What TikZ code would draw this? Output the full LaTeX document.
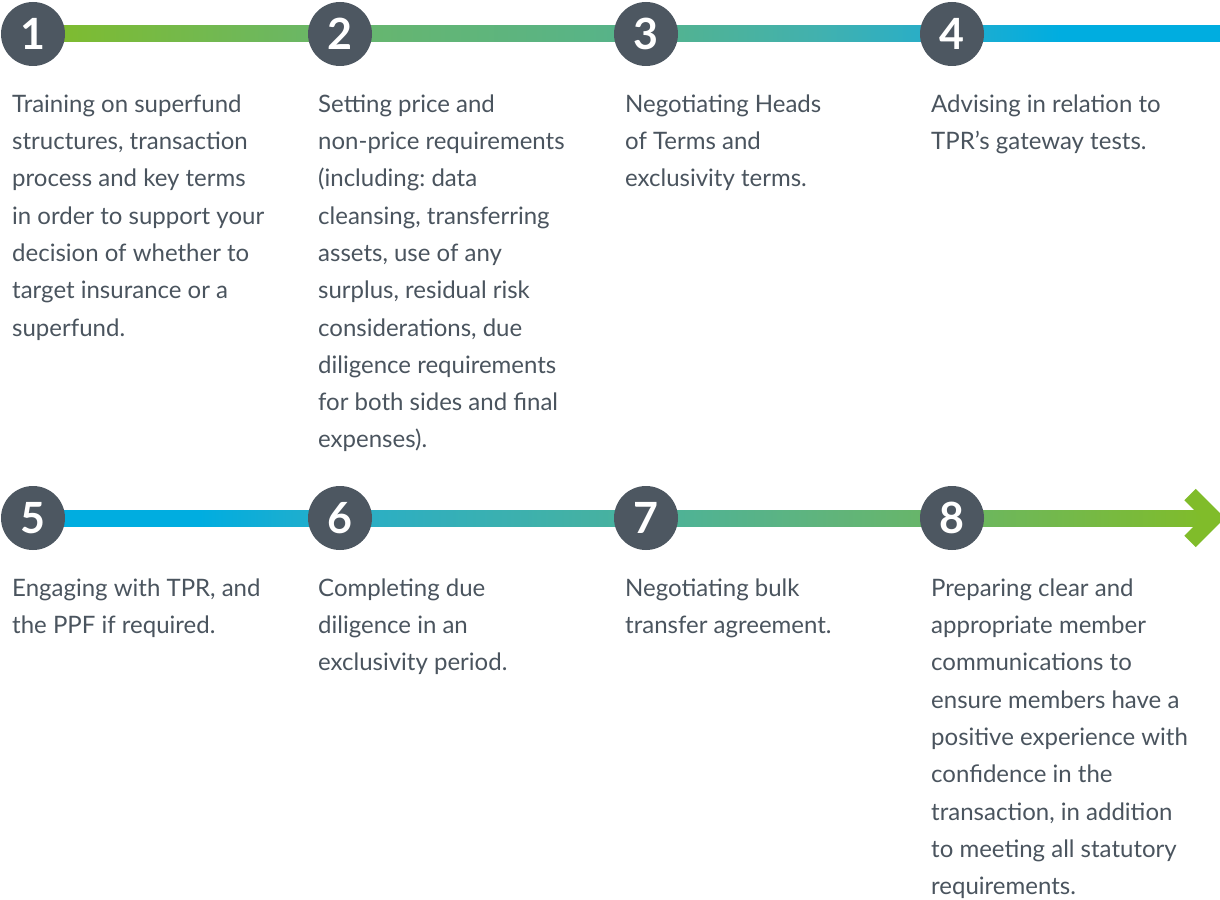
\documentclass[tikz,border=0pt]{standalone}
\usepackage{fontspec}
\setmainfont{Lato}
\usetikzlibrary{calc}
\definecolor{txt}{RGB}{74,84,94}
\definecolor{circ}{RGB}{77,87,97}
\definecolor{cA}{RGB}{128,188,42}
\definecolor{cB}{RGB}{104,182,108}
\definecolor{cC}{RGB}{85,179,140}
\definecolor{cD}{RGB}{65,177,175}
\definecolor{cE}{RGB}{35,173,205}
\definecolor{cF}{RGB}{0,173,224}
\definecolor{dB}{RGB}{40,174,200}
\definecolor{dC}{RGB}{75,178,155}
\definecolor{dD}{RGB}{95,180,125}
\definecolor{dE}{RGB}{106,182,100}
\tikzset{
  stepnum/.style={circle, fill=circ, minimum size=64pt, inner sep=0pt, text=white,
    font={\fontsize{43}{43}\selectfont\bfseries}},
  stepdesc/.style={anchor=north west, inner sep=0pt, align=left, text=txt,
    font={\fontsize{24}{37.3}\selectfont\frenchspacing}},
}
\newcommand{\barseg}[5]{\shade[left color=#1, right color=#2] ($(#3)+(-0.5,-8)$) rectangle ($(#4)+(0.5,8)$);}
\begin{document}
\begin{tikzpicture}[x=1pt,y=-1pt]
\useasboundingbox (0,0) rectangle (1220,899);
\clip (0,0) rectangle (1220,899);
% row 1 coordinates
\coordinate (a0) at (33,34);
\coordinate (a1) at (340,34);
\coordinate (a2) at (646,34);
\coordinate (a3) at (820,34);
\coordinate (a4) at (952,34);
\coordinate (a5) at (1060,34);
\coordinate (a6) at (1220,34);
% row 2 coordinates
\coordinate (b0) at (33,518);
\coordinate (b1) at (200,518);
\coordinate (b2) at (340,518);
\coordinate (b3) at (646,518);
\coordinate (b4) at (820,518);
\coordinate (b5) at (952,518);
\coordinate (b6) at (1206,518);
% bars row 1
\barseg{cA}{cB}{a0}{a1}{}
\barseg{cB}{cC}{a1}{a2}{}
\barseg{cC}{cD}{a2}{a3}{}
\barseg{cD}{cE}{a3}{a4}{}
\barseg{cE}{cF}{a4}{a5}{}
\barseg{cF}{cF}{a5}{a6}{}
% bars row 2
\barseg{cF}{cF}{b0}{b1}{}
\barseg{cF}{dB}{b1}{b2}{}
\barseg{dB}{dC}{b2}{b3}{}
\barseg{dC}{dD}{b3}{b4}{}
\barseg{dD}{dE}{b4}{b5}{}
\barseg{dE}{cA}{b5}{b6}{}
% arrow chevron
\coordinate (tip) at (1213.5,518);
\draw[cA, line width=16pt, miter limit=10] (1190,494.5) -- (tip) -- (1190,541.5);
% circles
\node[stepnum] (n1) at (a0) {1};
\node[stepnum] (n2) at (a1) {2};
\node[stepnum] (n3) at (a2) {3};
\node[stepnum] (n4) at (a4) {4};
\node[stepnum] (n5) at (b0) {5};
\node[stepnum] (n6) at (b2) {6};
\node[stepnum] (n7) at (b3) {7};
\node[stepnum] (n8) at (b5) {8};
% texts row 1 (first baseline at y=112; strut height 0.7*37.3)
\node[stepdesc] (t1) at (12,85.9) {\strut Training on superfund\\structures, transaction\\process and key terms\\in order to support your\\decision of whether to\\target insurance or a\\superfund.};
\node[stepdesc] (t2) at (318,85.9) {\strut Setting price and\\non-price requirements\\(including: data\\cleansing, transferring\\assets, use of any\\surplus, residual risk\\considerations, due\\diligence requirements\\for both sides and final\\expenses).};
\node[stepdesc] (t3) at (625,85.9) {\strut Negotiating Heads\\of Terms and\\exclusivity terms.};
\node[stepdesc] (t4) at (931,85.9) {\strut Advising in relation to\\TPR’s gateway tests.};
% texts row 2 (first baseline at y=596)
\node[stepdesc] (t5) at (12,569.9) {\strut Engaging with TPR, and\\the PPF if required.};
\node[stepdesc] (t6) at (318,569.9) {\strut Completing due\\diligence in an\\exclusivity period.};
\node[stepdesc] (t7) at (625,569.9) {\strut Negotiating bulk\\transfer agreement.};
\node[stepdesc] (t8) at (931,569.9) {\strut Preparing clear and\\appropriate member\\communications to\\ensure members have a\\positive experience with\\confidence in the\\transaction, in addition\\to meeting all statutory\\requirements.};
\end{tikzpicture}
\end{document}
